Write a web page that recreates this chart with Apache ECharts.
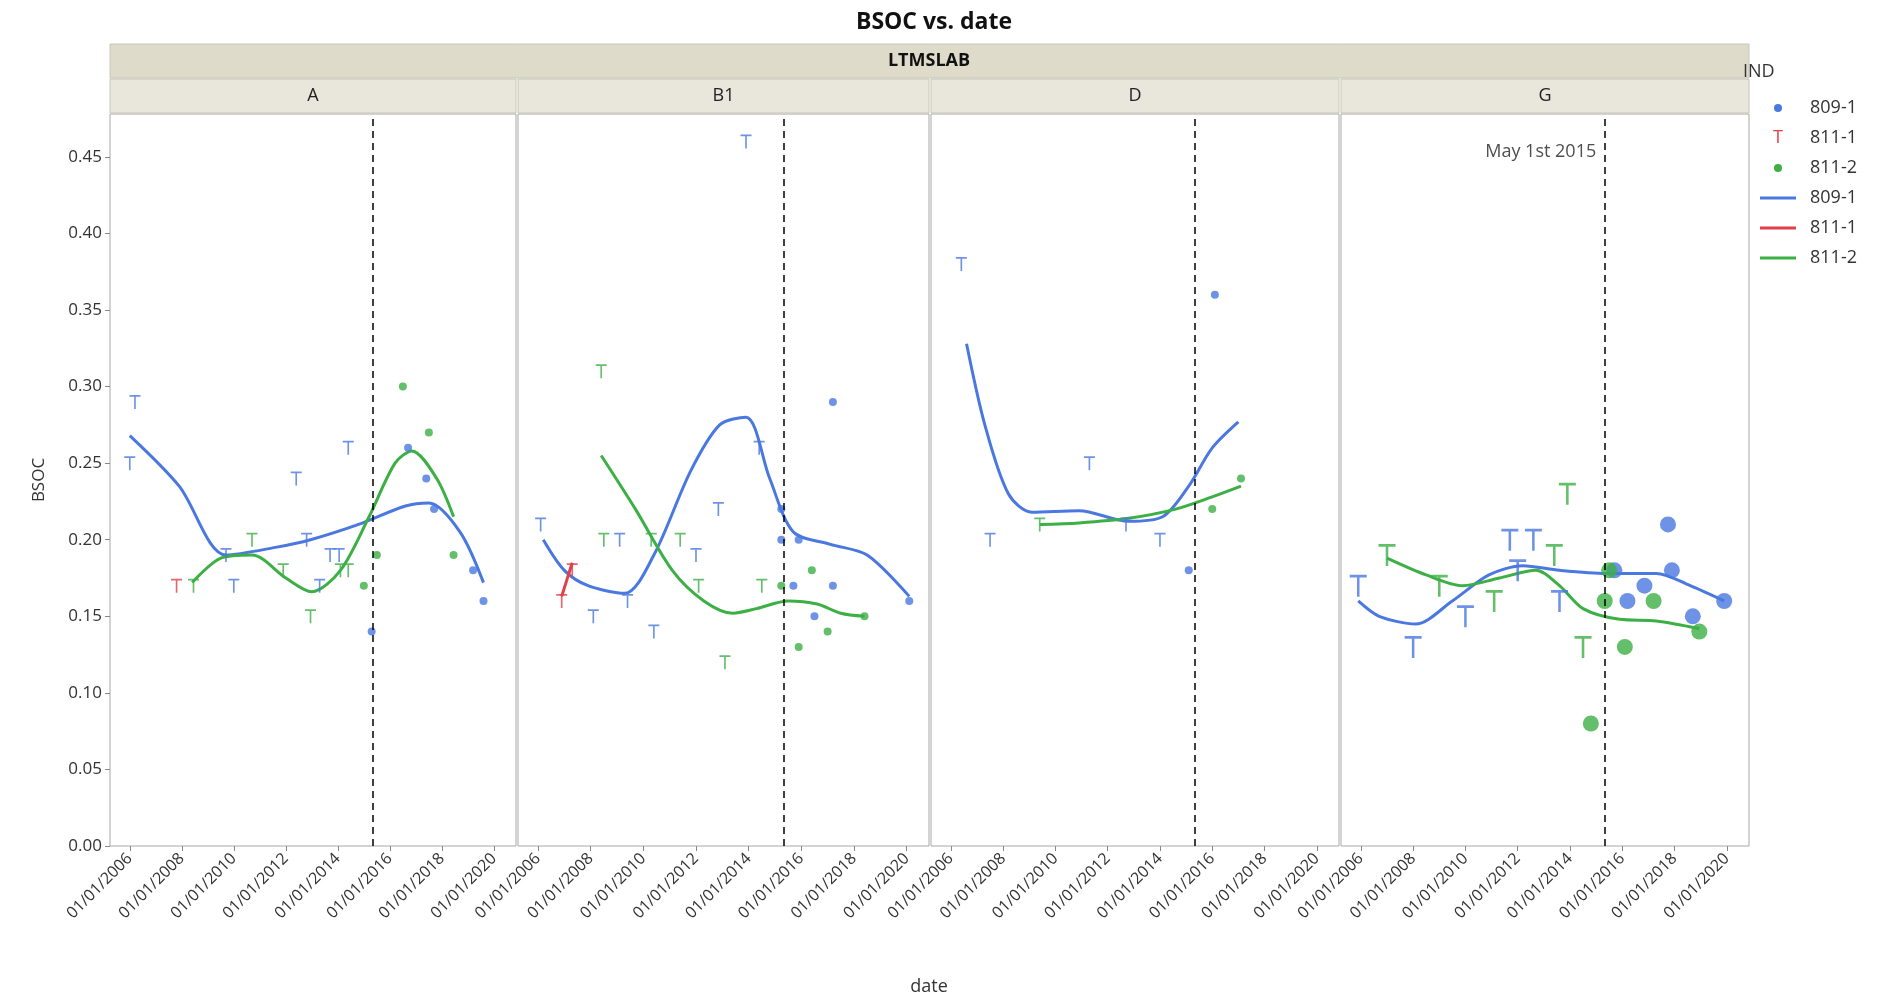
<!DOCTYPE html>
<html><head><meta charset="utf-8">
<script src="https://cdn.jsdelivr.net/npm/echarts@6/dist/echarts.min.js"></script>
<style>html,body{margin:0;padding:0;background:#fff}#c{width:1881px;height:1003px}</style>
</head><body><div id="c"></div>
<script>
const panels = ['A','B1','D','G'];
const tickYears = [2006,2008,2010,2012,2014,2016,2018,2020];
const yTicks = [0,0.05,0.1,0.15,0.2,0.25,0.3,0.35,0.4,0.45];
const refDate = 2015.33;
const refLabel = 'May 1st 2015';
// [year, BSOC]
const blueT = {
 A:[[2006.0,0.25],[2006.2,0.29],[2010.0,0.17],[2009.7,0.19],[2012.4,0.24],[2012.8,0.20],[2013.3,0.17],[2013.7,0.19],[2014.05,0.19],[2014.4,0.26]],
 B1:[[2006.1,0.21],[2008.1,0.15],[2009.1,0.20],[2009.4,0.16],[2010.4,0.14],[2012.0,0.19],[2012.85,0.22],[2013.9,0.46],[2014.4,0.26]],
 D:[[2006.4,0.38],[2007.5,0.20],[2011.3,0.25],[2012.7,0.21],[2014.0,0.20]],
 G:[[2005.9,0.17],[2008.0,0.13],[2010.0,0.15],[2011.7,0.20],[2012.0,0.18],[2012.6,0.20],[2013.6,0.16]]
};
const blueDot = {
 A:[[2015.3,0.14],[2016.7,0.26],[2017.4,0.24],[2017.7,0.22],[2019.2,0.18],[2019.6,0.16]],
 B1:[[2015.24,0.22],[2015.24,0.20],[2015.7,0.17],[2015.9,0.20],[2016.5,0.15],[2017.2,0.29],[2017.2,0.17],[2020.1,0.16]],
 D:[[2015.1,0.18],[2016.1,0.36]],
 G:[[2015.7,0.18],[2016.2,0.16],[2016.85,0.17],[2017.75,0.21],[2017.9,0.18],[2018.7,0.15],[2019.9,0.16]]
};
const redT = { A:[[2007.8,0.17]], B1:[[2006.9,0.16],[2007.3,0.18]], D:[], G:[] };
const redLine = { A:[], B1:[[2006.9,0.163],[2007.3,0.185]], D:[], G:[] };
const greenT = {
 A:[[2008.45,0.17],[2010.7,0.20],[2011.9,0.18],[2012.95,0.15],[2014.1,0.18],[2014.4,0.18]],
 B1:[[2008.4,0.31],[2008.5,0.20],[2010.3,0.20],[2011.4,0.20],[2012.1,0.17],[2013.1,0.12],[2014.5,0.17]],
 D:[[2009.4,0.21]],
 G:[[2007.0,0.19],[2009.0,0.17],[2011.1,0.16],[2013.4,0.19],[2013.9,0.23],[2014.5,0.13]]
};
const greenDot = {
 A:[[2015.0,0.17],[2015.5,0.19],[2016.5,0.30],[2017.5,0.27],[2018.45,0.19]],
 B1:[[2015.24,0.17],[2015.9,0.13],[2016.4,0.18],[2017.0,0.14],[2018.4,0.15]],
 D:[[2016.0,0.22],[2017.1,0.24]],
 G:[[2014.8,0.08],[2015.33,0.16],[2015.5,0.18],[2016.1,0.13],[2017.2,0.16],[2018.95,0.14]]
};
const blueLine = {
 A:[[2006.0,0.268],[2007.9,0.235],[2009.7,0.19],[2011.6,0.195],[2012.95,0.20],[2014.8,0.21],[2016.6,0.222],[2017.5,0.224],[2018.7,0.205],[2019.6,0.172]],
 B1:[[2006.2,0.20],[2007.0,0.18],[2007.9,0.17],[2009.3,0.165],[2010.4,0.19],[2011.8,0.245],[2012.9,0.275],[2013.9,0.28],[2014.8,0.24],[2015.7,0.205],[2017.1,0.197],[2018.5,0.19],[2020.1,0.163]],
 D:[[2006.6,0.328],[2007.3,0.275],[2008.2,0.23],[2009.1,0.218],[2010.9,0.219],[2012.8,0.212],[2014.1,0.215],[2015.1,0.235],[2016.0,0.26],[2017.0,0.277]],
 G:[[2005.9,0.16],[2006.7,0.15],[2008.1,0.145],[2009.5,0.16],[2010.9,0.177],[2012.2,0.183],[2013.6,0.18],[2015.4,0.178],[2017.3,0.178],[2018.6,0.17],[2019.9,0.16]]
};
const greenLine = {
 A:[[2008.4,0.172],[2009.5,0.188],[2010.7,0.19],[2012.0,0.175],[2013.0,0.166],[2014.1,0.18],[2015.2,0.215],[2016.2,0.25],[2016.85,0.258],[2017.8,0.24],[2018.45,0.215]],
 B1:[[2008.4,0.255],[2009.7,0.22],[2011.1,0.18],[2012.3,0.16],[2013.4,0.152],[2014.3,0.155],[2015.5,0.16],[2016.6,0.158],[2017.5,0.152],[2018.4,0.15]],
 D:[[2009.4,0.21],[2010.9,0.211],[2012.8,0.214],[2014.6,0.22],[2016.0,0.228],[2017.1,0.235]],
 G:[[2007.0,0.188],[2008.5,0.177],[2009.9,0.17],[2011.3,0.175],[2012.7,0.18],[2013.6,0.17],[2014.5,0.155],[2015.9,0.148],[2017.3,0.147],[2018.95,0.142]]
};

const BLUE='#4a78e0', RED='#e0404a', GREEN='#3caf45';
const TPATH='path://M0,0H10V1.5H5.75V12H4.25V1.5H0Z';
const FONT='"Segoe UI","Open Sans",sans-serif';
const px=[[110,516],[518,929],[931,1339],[1341,1749]];
const TOP=114, BOT=846;
const grids=[],xAxes=[],yAxes=[],series=[],graphic=[];
graphic.push({type:'rect',shape:{x:110,y:44,width:1639,height:34},style:{fill:'#dedbcb',stroke:'#c8c6b8'}});
graphic.push({type:'text',x:929,y:61,style:{text:'LTMSLAB',fill:'#111',font:'bold 18px '+FONT,align:'center',verticalAlign:'middle'}});
graphic.push({type:'text',x:929,y:987,style:{text:'date',fill:'#333',font:'18px '+FONT,align:'center',verticalAlign:'middle'}});
panels.forEach((p,i)=>{
  const big = p==='G';
  grids.push({left:px[i][0],width:px[i][1]-px[i][0],top:TOP,height:BOT-TOP,show:true,borderColor:'#a8a8a8',borderWidth:1,backgroundColor:'#fff'});
  xAxes.push({type:'value',gridIndex:i,min:2005.24,max:2020.85,splitLine:{show:false},
    axisLine:{show:false},
    axisTick:{show:true,customValues:tickYears,lineStyle:{color:'#888'},length:5},
    axisLabel:{customValues:tickYears,rotate:45,formatter:v=>'01/01/'+Math.round(v),color:'#333',fontSize:16,fontFamily:FONT,margin:10}});
  yAxes.push({type:'value',gridIndex:i,min:0,max:0.478,interval:0.05,splitLine:{show:false},axisLine:{show:false},
    axisTick:{show:i===0,customValues:yTicks,lineStyle:{color:'#888'}},
    axisLabel:{show:i===0,customValues:yTicks,formatter:v=>v.toFixed(2),color:'#333',fontSize:17,fontFamily:FONT},
    name:i===0?'BSOC':'',nameLocation:'middle',nameGap:62,nameTextStyle:{color:'#333',fontSize:17,fontFamily:FONT}});
  const ds=big?16:8, ts=big?[17,22]:[11,14];
  const base={xAxisIndex:i,yAxisIndex:i,z:3};
  series.push({...base,type:'line',data:blueLine[p],smooth:0.3,symbol:'none',lineStyle:{color:BLUE,width:3},
    markLine:{silent:true,symbol:'none',data:[{xAxis:refDate}],lineStyle:{color:'#000',type:[7,5],width:1.5},label:{show:false}}});
  series.push({...base,type:'line',data:greenLine[p],smooth:0.3,symbol:'none',lineStyle:{color:GREEN,width:3}});
  series.push({...base,type:'line',data:redLine[p],symbol:'none',lineStyle:{color:RED,width:3}});
  series.push({...base,type:'scatter',data:blueT[p],symbol:TPATH,symbolSize:ts,itemStyle:{color:BLUE}});
  series.push({...base,type:'scatter',data:redT[p],symbol:TPATH,symbolSize:ts,itemStyle:{color:RED}});
  series.push({...base,type:'scatter',data:greenT[p],symbol:TPATH,symbolSize:ts,itemStyle:{color:GREEN}});
  series.push({...base,type:'scatter',data:blueDot[p],symbol:'circle',symbolSize:ds,itemStyle:{color:BLUE}});
  series.push({...base,type:'scatter',data:greenDot[p],symbol:'circle',symbolSize:ds,itemStyle:{color:GREEN}});
  if(big) series.push({...base,type:'scatter',data:[[refDate,0.453]],symbol:'circle',symbolSize:1,silent:true,
    itemStyle:{color:'rgba(0,0,0,0)'},
    label:{show:true,position:'left',distance:8,formatter:refLabel,color:'#222',fontSize:18,fontFamily:FONT}});
  graphic.push({type:'rect',shape:{x:px[i][0],y:79,width:px[i][1]-px[i][0],height:34},style:{fill:'#e9e7dc',stroke:'#c8c6b8'}});
  graphic.push({type:'text',x:(px[i][0]+px[i][1])/2,y:96,style:{text:p,fill:'#222',font:'18px '+FONT,align:'center',verticalAlign:'middle'}});
});
graphic.push({type:'text',x:1743,y:72,style:{text:'IND',fill:'#333',font:'18px '+FONT,verticalAlign:'middle'}});
const leg=[['809-1','dot',BLUE],['811-1','T',RED],['811-2','dot',GREEN],['809-1','line',BLUE],['811-1','line',RED],['811-2','line',GREEN]];
leg.forEach((l,k)=>{
  const y=108+k*30;
  if(l[1]==='dot') graphic.push({type:'circle',shape:{cx:1778,cy:y,r:4},style:{fill:l[2]}});
  else if(l[1]==='T') graphic.push({type:'text',x:1778,y:y,style:{text:'T',fill:l[2],font:'18px '+FONT,align:'center',verticalAlign:'middle'}});
  else graphic.push({type:'line',shape:{x1:1760,y1:y,x2:1796,y2:y},style:{stroke:l[2],lineWidth:3}});
  graphic.push({type:'text',x:1810,y:y,style:{text:l[0],fill:'#333',font:'18px '+FONT,verticalAlign:'middle'}});
});
const chart=echarts.init(document.getElementById('c'));
chart.setOption({
  animation:false,backgroundColor:'#fff',
  title:{text:'BSOC vs. date',left:929,top:6,textAlign:'center',textStyle:{fontSize:23,fontWeight:'bold',color:'#111',fontFamily:FONT}},
  grid:grids,xAxis:xAxes,yAxis:yAxes,series:series,graphic:graphic
});
</script></body></html>
